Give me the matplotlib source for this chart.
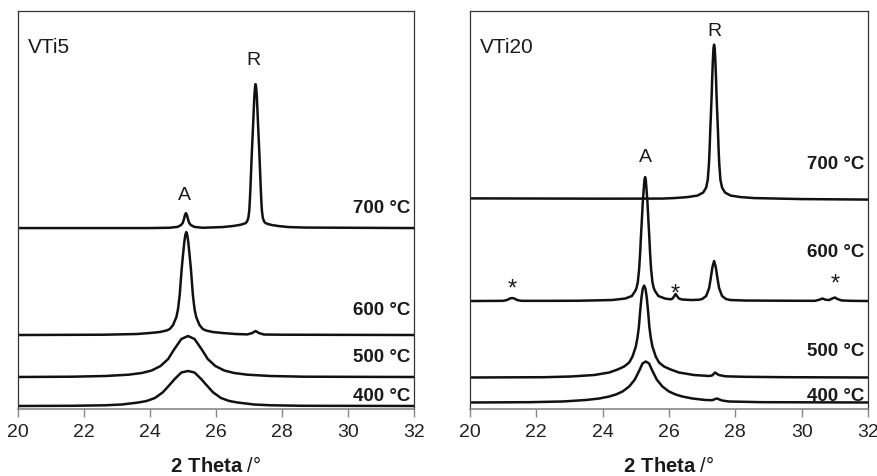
import numpy as np
import matplotlib.pyplot as plt

plt.rcParams['font.family'] = ['Liberation Sans', 'DejaVu Sans']
plt.rcParams['mathtext.fontset'] = 'custom'
plt.rcParams['mathtext.rm'] = 'Liberation Sans'
plt.rcParams['mathtext.bf'] = 'Liberation Sans:bold'

# patrones DRX: (2 theta, intensidad apilada u.a.)
vti5_400 = [(20, 3), (21.65, 3.2), (22.65, 3.7), (23.15, 4.5), (23.65, 6.5), (23.9, 8), (24.15, 11),
            (24.39, 16.7), (24.55, 22.5), (24.75, 30), (24.95, 36.5), (25.15, 38), (25.35, 36.5),
            (25.55, 30), (25.75, 22.5), (25.91, 16.7), (26.15, 11), (26.4, 8), (26.65, 6.5),
            (27.15, 4.5), (27.65, 3.7), (28.65, 3.2), (32, 3)]
vti5_500 = [(20, 32), (21.65, 32.3), (22.65, 33), (23.35, 34.3), (23.75, 36), (24.05, 38.5),
            (24.32, 43), (24.55, 50), (24.73, 59.5), (24.95, 70), (25.15, 73), (25.35, 70),
            (25.57, 59.5), (25.75, 50), (25.98, 43), (26.25, 38.5), (26.55, 36), (26.95, 34.3),
            (27.65, 33), (28.65, 32.3), (32, 32)]
vti5_600 = [(20, 74), (22.6, 74.3), (23.6, 75), (24.0, 76), (24.3, 77), (24.5, 78.5), (24.6, 80),
            (24.7, 84), (24.8, 92), (24.85, 100), (24.9, 114), (24.96, 140), (25.0, 154),
            (25.04, 167), (25.07, 174), (25.1, 177), (25.13, 174), (25.16, 167), (25.2, 154),
            (25.24, 140), (25.3, 114), (25.35, 100), (25.4, 92), (25.5, 84), (25.6, 80),
            (25.7, 78.5), (25.9, 77), (26.2, 76), (26.6, 75), (26.95, 74.6), (27.1, 76),
            (27.2, 78), (27.3, 76), (27.45, 74.5), (28.0, 74.3), (32, 74)]
vti5_700 = [(20, 181), (24, 181), (24.59, 181.3), (24.84, 182.2), (24.94, 184), (24.99, 186),
            (25.03, 190), (25.06, 194), (25.09, 196), (25.12, 194), (25.15, 190), (25.19, 186),
            (25.24, 184), (25.34, 182.2), (25.59, 181.3), (26.2, 182), (26.5, 183), (26.7, 184),
            (26.82, 185), (26.9, 186), (26.94, 187.5), (26.98, 191), (27.01, 199), (27.03, 211),
            (27.05, 226), (27.07, 243), (27.09, 259), (27.115, 277), (27.14, 296), (27.16, 311),
            (27.18, 321), (27.2, 325), (27.22, 321), (27.24, 311), (27.26, 296), (27.285, 277),
            (27.31, 259), (27.33, 243), (27.35, 226), (27.37, 211), (27.39, 199), (27.42, 191),
            (27.46, 187.5), (27.5, 186), (27.58, 185), (27.7, 184), (27.9, 183), (28.2, 182),
            (28.7, 181.5), (32, 181)]

vti20_400 = [(20, 6.5), (21.8, 6.8), (22.8, 7.5), (23.5, 9), (23.9, 10.5), (24.2, 12.5), (24.4, 14.5),
             (24.6, 17.5), (24.8, 22.5), (24.97, 29.5), (25.12, 39.5), (25.2, 45.5), (25.3, 47.5),
             (25.4, 45.5), (25.48, 39.5), (25.63, 29.5), (25.8, 22.5), (26.0, 17.5), (26.2, 14.5),
             (26.4, 12.5), (26.7, 10.5), (27.1, 9), (27.3, 8.8), (27.44, 10.5), (27.6, 8.5),
             (27.8, 7.5), (28.8, 6.8), (32, 6.5)]
vti20_500 = [(20, 31.5), (22.25, 31.8), (23.05, 32.5), (23.75, 34), (24.2, 36.5), (24.45, 39.5),
             (24.65, 42.5), (24.8, 46.5), (24.9, 52.5), (25.0, 62.5), (25.05, 71.5), (25.09, 81.5),
             (25.13, 97.5), (25.17, 111.5), (25.21, 120.5), (25.25, 123.5), (25.29, 120.5),
             (25.33, 111.5), (25.37, 97.5), (25.41, 81.5), (25.45, 71.5), (25.5, 62.5), (25.6, 52.5),
             (25.7, 46.5), (25.85, 42.5), (26.05, 39.5), (26.3, 36.5), (26.75, 34), (27.2, 33),
             (27.3, 33.5), (27.39, 36.5), (27.5, 34), (27.7, 32.7), (28.25, 32.2), (29.5, 31.8),
             (32, 31.5)]
vti20_600 = [(20, 108), (21.0, 108.2), (21.12, 109), (21.2, 110.5), (21.27, 111), (21.34, 110.5),
             (21.42, 109), (21.55, 108.2), (22.5, 108.2), (23.3, 108.3), (24.28, 109), (24.68, 110.5),
             (24.88, 113), (24.98, 118), (25.02, 121), (25.06, 127), (25.1, 140), (25.13, 156),
             (25.155, 173), (25.18, 188), (25.21, 207), (25.245, 223), (25.26, 229), (25.28, 232),
             (25.3, 229), (25.315, 223), (25.35, 207), (25.38, 188), (25.405, 173), (25.43, 156),
             (25.46, 140), (25.5, 127), (25.54, 121), (25.58, 118), (25.68, 113), (25.88, 110.5),
             (26.05, 109.7), (26.11, 110.5), (26.16, 113), (26.2, 115), (26.24, 113), (26.3, 110.5),
             (26.4, 109.5), (26.7, 109), (26.9, 109.3), (27.0, 110), (27.12, 113), (27.21, 121),
             (27.255, 130), (27.31, 142), (27.36, 148), (27.41, 142), (27.465, 130), (27.51, 121),
             (27.6, 113), (27.72, 110), (27.85, 109), (28.3, 108.5), (29.5, 108.3), (30.4, 108.2),
             (30.53, 109.3), (30.63, 110.5), (30.72, 109.3), (30.83, 109), (30.92, 110.5),
             (31.0, 111.5), (31.08, 110), (31.2, 108.6), (31.5, 108.2), (32, 108)]
vti20_700 = [(20, 210.7), (24, 210.4), (25.8, 210.5), (26.16, 211), (26.56, 212), (26.86, 213.5),
             (27.03, 216.5), (27.12, 221.5), (27.17, 229.5), (27.205, 245.5), (27.225, 260.5),
             (27.245, 279.5), (27.265, 295.5), (27.285, 312.5), (27.30, 328.5), (27.32, 346.5),
             (27.34, 360.5), (27.36, 364.5), (27.38, 360.5), (27.40, 346.5), (27.42, 328.5),
             (27.435, 312.5), (27.455, 295.5), (27.475, 279.5), (27.495, 260.5), (27.515, 245.5),
             (27.55, 229.5), (27.6, 221.5), (27.69, 216.5), (27.86, 213.5), (28.16, 212),
             (28.56, 211), (30, 210), (32, 209.5)]

temps = ['400 °C', '500 °C', '600 °C', '700 °C']

paneles = [
    {'nombre': 'VTi5', 'curvas': [vti5_400, vti5_500, vti5_600, vti5_700],
     'y_etiq': [13, 53, 100, 202],
     'fases': [('A', 25.03, 215), ('R', 27.15, 350)],
     'estrellas': []},
    {'nombre': 'VTi20', 'curvas': [vti20_400, vti20_500, vti20_600, vti20_700],
     'y_etiq': [13, 59, 158, 246],
     'fases': [('A', 25.28, 253), ('R', 27.36, 379)],
     'estrellas': [(21.27, 121), (26.2, 116), (31.0, 126)]},
]

fig = plt.figure(figsize=(8.78, 4.77), dpi=100)
posiciones = [[0.0205, 0.1405, 0.451, 0.834], [0.5353, 0.1405, 0.4533, 0.834]]

for pos, p in zip(posiciones, paneles):
    ax = fig.add_axes(pos)
    for curva in p['curvas']:
        xy = np.array(curva)
        ax.plot(xy[:, 0], xy[:, 1], color='#111111', lw=1.8, solid_joinstyle='round')

    for t, y in zip(temps, p['y_etiq']):
        ax.text(0.992, y, t, transform=ax.get_yaxis_transform(), ha='right', va='center',
                fontsize=13.5, fontweight='bold', color='#1a1a1a')

    for letra, x, y in p['fases']:
        ax.text(x, y, letra, ha='center', va='center', fontsize=14, color='#1a1a1a')
    for x, y in p['estrellas']:
        ax.text(x, y, '*', ha='center', va='center', fontsize=17, color='#1a1a1a')

    ax.text(0.025, 0.91, p['nombre'], transform=ax.transAxes, ha='left', va='center',
            fontsize=15, color='#1a1a1a')

    ax.set_xlim(20, 32)
    ax.set_ylim(0, 398)
    ax.set_xticks(np.arange(20, 33, 2))
    ax.set_yticks([])
    ax.tick_params(axis='x', direction='out', length=6, width=1, color='#888888',
                   labelsize=14, labelcolor='#222222', pad=4)
    for lado in ['left', 'right', 'top']:
        ax.spines[lado].set_color('#333333')
        ax.spines[lado].set_linewidth(0.9)
    ax.spines['bottom'].set_color('#888888')
    ax.spines['bottom'].set_linewidth(1.2)
    ax.set_xlabel(r'$\mathbf{2\ Theta}$ /°', fontsize=14.5, color='#1a1a1a', labelpad=11)

fig.savefig('out.png', dpi=100)
